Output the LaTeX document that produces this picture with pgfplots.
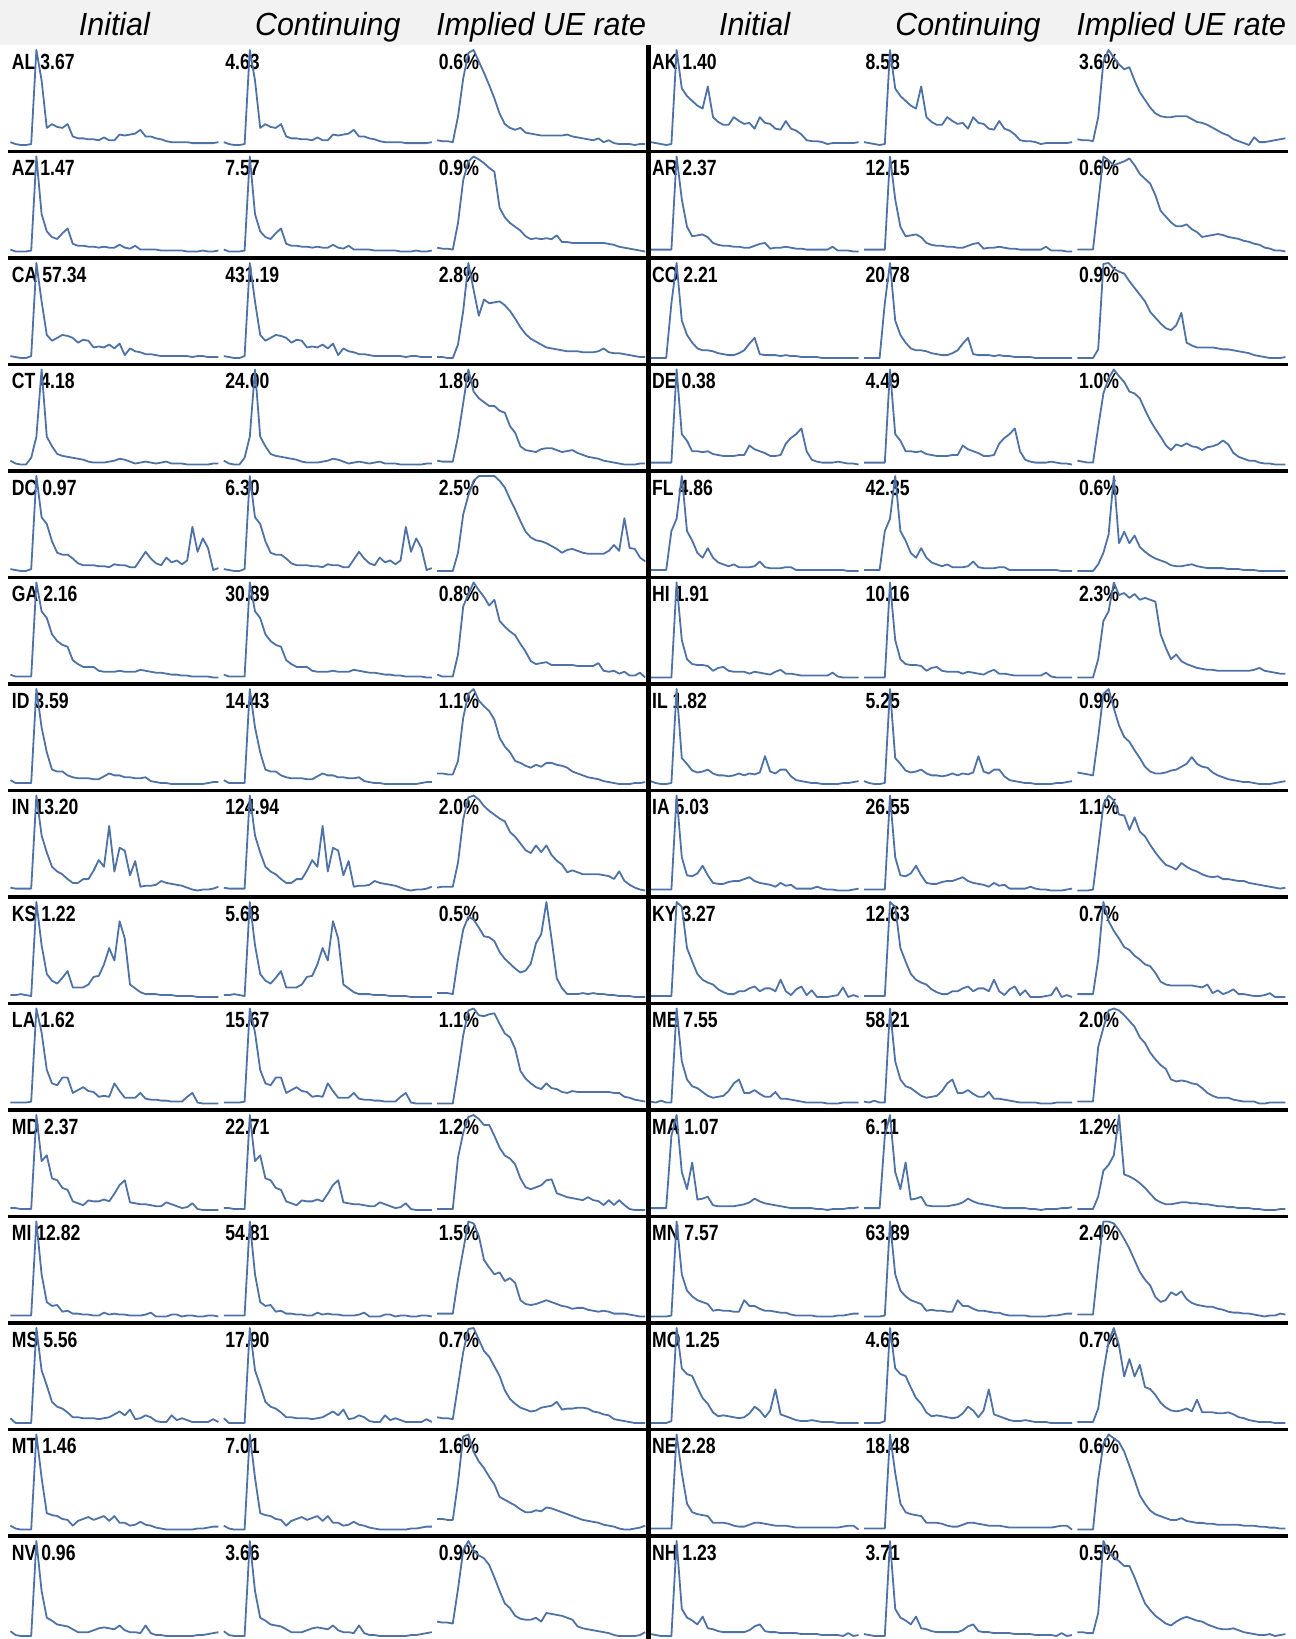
\documentclass[border=0pt]{standalone}
\usepackage{pgfplots}
\pgfplotsset{compat=1.18}
\usepackage{fontspec}
\setmainfont{Liberation Sans}
\newfontfamily\labfont{Liberation Sans}[FakeStretch=0.80]
\newfontfamily\hdrfont{Liberation Sans}[FakeStretch=0.95]
\definecolor{spk}{RGB}{78,114,166}
\definecolor{hdrbg}{RGB}{242,242,242}
\pgfplotsset{sparkax/.style={width=104pt,height=47.5pt,scale only axis,axis lines=none,ticks=none,
  enlargelimits=false,clip=false,anchor=north west,xmin=0,xmax=40}}
\newcommand\spark[4]{%
\begin{axis}[sparkax,at={({5.2pt+(#1-1)*106.7pt},{-25pt-(#2-1)*53.25pt})}]
\node[anchor=base west,inner sep=0pt,xshift=0.6pt,yshift=-9.5pt,font=\labfont\bfseries\fontsize{11}{12}\selectfont] at (rel axis cs:0,1) {#3};
\addplot[spk,line width=0.9pt,no markers,line join=round] table[x expr=\coordindex,y index=0,header=false,row sep=\\]{#4};
\end{axis}}
\begin{document}
\begin{tikzpicture}
\useasboundingbox (0,0) rectangle (648pt,-819.5pt);
\fill[hdrbg] (0,0) rectangle (648pt,-22.5pt);
\foreach \c/\t in {1/Initial,2/Continuing,3/Implied UE rate,4/Initial,5/Continuing,6/Implied UE rate}
  \node[anchor=base,inner sep=0pt,font=\hdrfont\itshape\fontsize{16}{18}\selectfont] at ({5.2pt+(\c-1)*106.7pt+52pt},-17.5pt) {\t};
% ---- left half ----
\spark{1}{1}{AL 3.67}{3\\1\\0\\0\\1\\100\\68\\18\\22\\19\\18\\22\\9\\7\\7\\6\\6\\5\\8\\5\\5\\11\\10\\11\\12\\16\\9\\9\\7\\6\\4\\3\\3\\3\\3\\2\\2\\2\\2\\2\\3\\}
\spark{2}{1}{4.63}{3\\1\\0\\0\\1\\100\\68\\18\\22\\19\\18\\22\\9\\7\\7\\6\\6\\5\\8\\5\\5\\11\\10\\11\\12\\16\\9\\9\\7\\6\\4\\3\\3\\3\\3\\2\\2\\2\\2\\2\\3\\}
\spark{3}{1}{0.6\%}{5\\4\\4\\3\\30\\70\\97\\100\\88\\76\\63\\49\\33\\22\\18\\16\\18\\13\\12\\11\\10\\10\\10\\10\\10\\11\\9\\8\\7\\6\\5\\7\\3\\5\\2\\1\\1\\1\\0\\1\\1\\}
\spark{1}{2}{AZ 1.47}{3\\1\\1\\1\\2\\100\\40\\22\\16\\14\\20\\25\\9\\7\\7\\6\\6\\5\\6\\5\\5\\8\\5\\4\\7\\3\\3\\3\\3\\2\\2\\2\\2\\2\\1\\1\\1\\2\\1\\1\\2\\}
\spark{2}{2}{7.57}{3\\1\\1\\1\\2\\100\\40\\22\\16\\14\\20\\25\\9\\7\\7\\6\\6\\5\\6\\5\\5\\8\\5\\4\\7\\3\\3\\3\\3\\2\\2\\2\\2\\2\\1\\1\\1\\2\\1\\1\\2\\}
\spark{3}{2}{0.9\%}{4\\3\\3\\2\\30\\75\\95\\100\\97\\93\\88\\84\\46\\36\\30\\26\\22\\16\\13\\14\\13\\14\\13\\17\\10\\10\\9\\9\\9\\9\\9\\9\\9\\8\\7\\5\\4\\3\\2\\1\\0\\}
\spark{1}{3}{CA 57.34}{3\\2\\1\\1\\3\\100\\60\\25\\19\\22\\25\\24\\22\\17\\20\\19\\12\\13\\12\\15\\11\\16\\4\\11\\8\\7\\5\\5\\4\\3\\3\\3\\3\\3\\3\\2\\3\\3\\2\\2\\2\\}
\spark{2}{3}{431.19}{3\\2\\1\\1\\3\\100\\60\\25\\19\\22\\25\\24\\22\\17\\20\\19\\12\\13\\12\\15\\11\\16\\4\\11\\8\\7\\5\\5\\4\\3\\3\\3\\3\\3\\3\\2\\3\\3\\2\\2\\2\\}
\spark{3}{3}{2.8\%}{2\\2\\1\\1\\15\\50\\100\\72\\45\\62\\58\\59\\60\\56\\50\\42\\33\\26\\21\\18\\15\\12\\11\\10\\9\\8\\8\\8\\7\\7\\7\\8\\11\\7\\6\\6\\5\\4\\3\\2\\2\\}
\spark{1}{4}{CT 4.18}{5\\2\\1\\1\\8\\30\\100\\30\\20\\12\\10\\9\\8\\7\\6\\4\\3\\3\\3\\4\\5\\7\\6\\4\\2\\3\\4\\3\\2\\3\\4\\2\\2\\2\\1\\1\\1\\1\\1\\2\\2\\}
\spark{2}{4}{24.00}{5\\2\\1\\1\\8\\30\\100\\30\\20\\12\\10\\9\\8\\7\\6\\4\\3\\3\\3\\4\\5\\7\\6\\4\\2\\3\\4\\3\\2\\3\\4\\2\\2\\2\\1\\1\\1\\1\\1\\2\\2\\}
\spark{3}{4}{1.8\%}{5\\4\\4\\4\\30\\65\\100\\77\\70\\66\\62\\62\\57\\55\\41\\34\\20\\16\\15\\14\\17\\18\\18\\16\\14\\15\\16\\13\\11\\9\\8\\7\\5\\4\\3\\2\\1\\1\\1\\2\\2\\}
\spark{1}{5}{DC 0.97}{3\\2\\1\\1\\3\\100\\57\\50\\32\\20\\18\\18\\14\\9\\7\\7\\7\\6\\6\\5\\8\\7\\7\\5\\5\\13\\21\\14\\9\\7\\15\\10\\12\\8\\12\\47\\21\\35\\25\\2\\4\\}
\spark{2}{5}{6.30}{3\\2\\1\\1\\3\\100\\57\\50\\32\\20\\18\\18\\14\\9\\7\\7\\7\\6\\6\\5\\8\\7\\7\\5\\5\\13\\21\\14\\9\\7\\15\\10\\12\\8\\12\\47\\21\\35\\25\\2\\4\\}
\spark{3}{5}{2.5\%}{1\\1\\1\\1\\20\\60\\80\\95\\100\\100\\100\\100\\95\\88\\76\\65\\53\\42\\36\\33\\32\\30\\27\\24\\20\\23\\24\\22\\20\\19\\19\\19\\19\\22\\28\\22\\56\\25\\24\\15\\11\\}
\spark{1}{6}{GA 2.16}{4\\2\\2\\2\\2\\100\\70\\63\\46\\39\\35\\33\\19\\15\\12\\12\\12\\8\\7\\7\\7\\8\\7\\7\\7\\9\\8\\7\\6\\6\\5\\4\\4\\3\\3\\2\\2\\2\\2\\1\\1\\}
\spark{2}{6}{30.89}{4\\2\\2\\2\\2\\100\\70\\63\\46\\39\\35\\33\\19\\15\\12\\12\\12\\8\\7\\7\\7\\8\\7\\7\\7\\9\\8\\7\\6\\6\\5\\4\\4\\3\\3\\2\\2\\2\\2\\1\\1\\}
\spark{3}{6}{0.8\%}{4\\2\\2\\2\\25\\75\\88\\100\\92\\85\\76\\82\\60\\54\\49\\45\\36\\28\\18\\15\\16\\17\\14\\14\\14\\14\\14\\13\\13\\13\\13\\16\\8\\7\\8\\5\\7\\3\\3\\6\\1\\}
\spark{1}{7}{ID 3.59}{5\\2\\2\\2\\2\\100\\60\\34\\16\\14\\14\\10\\8\\7\\7\\7\\6\\6\\9\\12\\10\\10\\8\\8\\7\\7\\8\\4\\3\\2\\2\\1\\1\\1\\1\\1\\1\\1\\2\\3\\3\\}
\spark{2}{7}{14.43}{5\\2\\2\\2\\2\\100\\60\\34\\16\\14\\14\\10\\8\\7\\7\\7\\6\\6\\9\\12\\10\\10\\8\\8\\7\\7\\8\\4\\3\\2\\2\\1\\1\\1\\1\\1\\1\\1\\2\\3\\3\\}
\spark{3}{7}{1.1\%}{12\\12\\11\\11\\25\\70\\95\\100\\88\\82\\77\\68\\49\\40\\34\\25\\23\\20\\18\\21\\19\\23\\23\\21\\20\\18\\14\\12\\10\\8\\7\\6\\4\\3\\2\\1\\1\\1\\2\\2\\3\\}
\spark{1}{8}{IN 13.20}{3\\2\\2\\2\\2\\100\\58\\40\\25\\20\\17\\12\\8\\8\\12\\12\\21\\32\\25\\68\\20\\45\\42\\16\\31\\4\\5\\5\\6\\10\\8\\7\\6\\5\\3\\1\\0\\1\\1\\2\\4\\}
\spark{2}{8}{124.94}{3\\2\\2\\2\\2\\100\\58\\40\\25\\20\\17\\12\\8\\8\\12\\12\\21\\32\\25\\68\\20\\45\\42\\16\\31\\4\\5\\5\\6\\10\\8\\7\\6\\5\\3\\1\\0\\1\\1\\2\\4\\}
\spark{3}{8}{2.0\%}{4\\5\\5\\5\\30\\75\\98\\100\\96\\89\\84\\80\\76\\73\\62\\57\\50\\43\\40\\48\\41\\48\\38\\32\\28\\20\\22\\20\\18\\18\\18\\18\\17\\16\\13\\21\\11\\7\\4\\2\\1\\}
\spark{1}{9}{KS 1.22}{3\\3\\4\\3\\2\\100\\55\\25\\18\\15\\21\\28\\11\\11\\11\\14\\22\\23\\35\\52\\39\\80\\62\\14\\10\\6\\4\\4\\4\\3\\3\\3\\2\\2\\2\\2\\1\\1\\1\\1\\1\\}
\spark{2}{9}{5.68}{3\\3\\4\\3\\2\\100\\55\\25\\18\\15\\21\\28\\11\\11\\11\\14\\22\\23\\35\\52\\39\\80\\62\\14\\10\\6\\4\\4\\4\\3\\3\\3\\2\\2\\2\\2\\1\\1\\1\\1\\1\\}
\spark{3}{9}{0.5\%}{5\\5\\5\\4\\40\\70\\83\\80\\72\\63\\62\\58\\47\\40\\35\\30\\26\\28\\35\\56\\65\\98\\60\\20\\10\\4\\4\\4\\5\\4\\5\\4\\4\\3\\3\\2\\2\\2\\1\\1\\1\\}
\spark{1}{10}{LA 1.62}{2\\2\\2\\2\\3\\100\\75\\36\\22\\20\\28\\28\\12\\15\\18\\14\\13\\8\\9\\8\\22\\14\\7\\7\\7\\12\\6\\5\\5\\4\\4\\3\\3\\3\\8\\12\\2\\1\\1\\1\\1\\}
\spark{2}{10}{15.67}{2\\2\\2\\2\\3\\100\\75\\36\\22\\20\\28\\28\\12\\15\\18\\14\\13\\8\\9\\8\\22\\14\\7\\7\\7\\12\\6\\5\\5\\4\\4\\3\\3\\3\\8\\12\\2\\1\\1\\1\\1\\}
\spark{3}{10}{1.1\%}{1\\1\\1\\1\\35\\72\\98\\100\\93\\92\\94\\95\\84\\74\\70\\58\\35\\27\\22\\18\\16\\22\\17\\16\\13\\12\\14\\13\\13\\13\\13\\13\\13\\13\\12\\12\\8\\7\\5\\4\\3\\}
\spark{1}{11}{MD 2.37}{3\\3\\2\\2\\2\\100\\52\\58\\34\\32\\24\\22\\10\\8\\6\\11\\10\\10\\12\\10\\18\\27\\32\\9\\8\\7\\7\\6\\5\\5\\9\\7\\5\\3\\4\\8\\2\\1\\1\\1\\1\\}
\spark{2}{11}{22.71}{3\\3\\2\\2\\2\\100\\52\\58\\34\\32\\24\\22\\10\\8\\6\\11\\10\\10\\12\\10\\18\\27\\32\\9\\8\\7\\7\\6\\5\\5\\9\\7\\5\\3\\4\\8\\2\\1\\1\\1\\1\\}
\spark{3}{11}{1.2\%}{3\\3\\3\\3\\55\\80\\96\\98\\94\\88\\88\\77\\65\\57\\54\\48\\34\\25\\23\\25\\27\\32\\33\\19\\17\\15\\14\\13\\12\\15\\12\\11\\7\\12\\7\\12\\7\\3\\2\\2\\2\\}
\spark{1}{12}{MI 12.82}{2\\2\\2\\2\\2\\100\\45\\16\\12\\13\\6\\7\\4\\4\\3\\3\\2\\2\\5\\3\\4\\3\\3\\2\\2\\2\\3\\5\\1\\1\\1\\3\\3\\1\\2\\2\\1\\1\\2\\2\\1\\}
\spark{2}{12}{54.81}{2\\2\\2\\2\\2\\100\\45\\16\\12\\13\\6\\7\\4\\4\\3\\3\\2\\2\\5\\3\\4\\3\\3\\2\\2\\2\\3\\5\\1\\1\\1\\3\\3\\1\\2\\2\\1\\1\\2\\2\\1\\}
\spark{3}{12}{1.5\%}{4\\4\\4\\4\\40\\70\\100\\98\\85\\60\\52\\45\\47\\38\\41\\36\\18\\14\\13\\14\\16\\18\\16\\14\\12\\11\\9\\10\\10\\8\\7\\6\\7\\6\\4\\4\\4\\3\\2\\1\\1\\}
\spark{1}{13}{MS 5.56}{6\\1\\1\\1\\1\\100\\56\\40\\23\\18\\16\\12\\7\\7\\6\\6\\6\\5\\6\\7\\10\\13\\9\\15\\5\\6\\9\\7\\3\\2\\2\\9\\4\\6\\4\\2\\2\\2\\2\\5\\2\\}
\spark{2}{13}{17.90}{6\\1\\1\\1\\1\\100\\56\\40\\23\\18\\16\\12\\7\\7\\6\\6\\6\\5\\6\\7\\10\\13\\9\\15\\5\\6\\9\\7\\3\\2\\2\\9\\4\\6\\4\\2\\2\\2\\2\\5\\2\\}
\spark{3}{13}{0.7\%}{7\\6\\6\\5\\40\\75\\99\\100\\88\\76\\70\\60\\50\\35\\26\\21\\17\\15\\13\\14\\17\\18\\19\\23\\15\\16\\16\\17\\17\\16\\13\\12\\10\\9\\5\\4\\3\\2\\1\\1\\1\\}
\spark{1}{14}{MT 1.46}{5\\2\\1\\1\\1\\100\\55\\18\\16\\15\\12\\11\\5\\10\\12\\14\\11\\13\\15\\10\\15\\8\\8\\5\\6\\9\\6\\5\\3\\2\\1\\1\\1\\1\\1\\1\\2\\2\\3\\4\\4\\}
\spark{2}{14}{7.01}{5\\2\\1\\1\\1\\100\\55\\18\\16\\15\\12\\11\\5\\10\\12\\14\\11\\13\\15\\10\\15\\8\\8\\5\\6\\9\\6\\5\\3\\2\\1\\1\\1\\1\\1\\1\\2\\2\\3\\4\\4\\}
\spark{3}{14}{1.6\%}{12\\12\\11\\11\\50\\98\\100\\82\\72\\65\\56\\48\\35\\32\\29\\26\\22\\19\\19\\21\\20\\24\\23\\21\\19\\17\\15\\13\\11\\10\\9\\8\\6\\5\\4\\2\\1\\1\\2\\3\\5\\}
\spark{1}{15}{NV 0.96}{6\\2\\1\\1\\1\\100\\48\\20\\17\\13\\12\\11\\8\\5\\5\\5\\7\\9\\10\\9\\8\\12\\7\\5\\5\\4\\12\\4\\2\\2\\1\\1\\1\\1\\1\\1\\2\\2\\3\\4\\5\\}
\spark{2}{15}{3.66}{6\\2\\1\\1\\1\\100\\48\\20\\17\\13\\12\\11\\8\\5\\5\\5\\7\\9\\10\\9\\8\\12\\7\\5\\5\\4\\12\\4\\2\\2\\1\\1\\1\\1\\1\\1\\2\\2\\3\\4\\5\\}
\spark{3}{15}{0.9\%}{16\\15\\15\\14\\50\\90\\100\\90\\85\\82\\75\\62\\48\\35\\30\\22\\19\\18\\18\\20\\16\\25\\24\\23\\22\\20\\18\\11\\9\\8\\7\\6\\5\\4\\2\\1\\1\\1\\1\\2\\5\\}
% ---- right half ----
\spark{4}{1}{AK 1.40}{4\\3\\2\\1\\2\\100\\60\\52\\47\\42\\39\\62\\30\\25\\22\\22\\30\\26\\23\\24\\18\\30\\24\\23\\18\\17\\26\\18\\16\\12\\6\\5\\5\\4\\2\\3\\3\\3\\3\\3\\4\\}
\spark{5}{1}{8.58}{4\\3\\2\\1\\2\\100\\60\\52\\47\\42\\39\\62\\30\\25\\22\\22\\30\\26\\23\\24\\18\\30\\24\\23\\18\\17\\26\\18\\16\\12\\6\\5\\5\\4\\2\\3\\3\\3\\3\\3\\4\\}
\spark{6}{1}{3.6\%}{7\\6\\6\\5\\30\\88\\100\\92\\85\\80\\82\\68\\56\\48\\40\\34\\31\\30\\30\\31\\31\\31\\28\\25\\24\\22\\19\\16\\13\\11\\7\\5\\3\\1\\9\\4\\4\\5\\6\\7\\8\\}
\spark{4}{2}{AR 2.37}{2\\2\\2\\2\\2\\100\\55\\26\\16\\17\\18\\15\\9\\7\\6\\6\\5\\5\\4\\4\\6\\8\\9\\3\\4\\4\\5\\4\\3\\3\\2\\2\\2\\2\\2\\5\\1\\1\\1\\0\\0\\}
\spark{5}{2}{12.15}{2\\2\\2\\2\\2\\100\\55\\26\\16\\17\\18\\15\\9\\7\\6\\6\\5\\5\\4\\4\\6\\8\\9\\3\\4\\4\\5\\4\\3\\3\\2\\2\\2\\2\\2\\5\\1\\1\\1\\0\\0\\}
\spark{6}{2}{0.6\%}{2\\2\\2\\2\\50\\98\\94\\89\\91\\93\\96\\89\\80\\75\\70\\58\\42\\36\\30\\26\\26\\28\\23\\20\\15\\16\\17\\18\\17\\15\\14\\13\\11\\10\\8\\7\\4\\3\\1\\1\\0\\}
\spark{4}{3}{CO 2.21}{1\\1\\1\\1\\58\\100\\40\\25\\17\\11\\9\\9\\8\\6\\5\\4\\4\\6\\9\\16\\22\\5\\4\\4\\4\\3\\4\\3\\3\\2\\2\\2\\2\\1\\1\\1\\1\\1\\1\\1\\1\\}
\spark{5}{3}{20.78}{1\\1\\1\\1\\58\\100\\40\\25\\17\\11\\9\\9\\8\\6\\5\\4\\4\\6\\9\\16\\22\\5\\4\\4\\4\\3\\4\\3\\3\\2\\2\\2\\2\\1\\1\\1\\1\\1\\1\\1\\1\\}
\spark{6}{3}{0.9\%}{1\\1\\1\\1\\10\\99\\100\\94\\91\\89\\81\\74\\67\\60\\49\\43\\37\\32\\30\\35\\48\\17\\14\\12\\12\\12\\12\\11\\10\\10\\9\\8\\7\\6\\4\\3\\2\\1\\1\\1\\2\\}
\spark{4}{4}{DE 0.38}{2\\2\\2\\2\\2\\100\\32\\25\\14\\14\\13\\14\\11\\10\\9\\9\\9\\10\\10\\20\\16\\14\\12\\9\\9\\10\\22\\28\\32\\38\\14\\5\\3\\2\\2\\2\\3\\2\\1\\1\\0\\}
\spark{5}{4}{4.49}{2\\2\\2\\2\\2\\100\\32\\25\\14\\14\\13\\14\\11\\10\\9\\9\\9\\10\\10\\20\\16\\14\\12\\9\\9\\10\\22\\28\\32\\38\\14\\5\\3\\2\\2\\2\\3\\2\\1\\1\\0\\}
\spark{6}{4}{1.0\%}{5\\4\\3\\3\\40\\75\\91\\100\\93\\87\\77\\75\\70\\58\\47\\38\\30\\21\\16\\22\\20\\23\\20\\19\\16\\19\\20\\22\\26\\22\\13\\9\\7\\5\\5\\3\\2\\2\\1\\1\\1\\}
\spark{4}{5}{FL 4.86}{1\\1\\1\\1\\42\\55\\100\\42\\32\\19\\14\\24\\14\\9\\7\\5\\7\\4\\4\\4\\5\\10\\4\\3\\3\\3\\4\\4\\1\\1\\1\\1\\1\\1\\1\\1\\1\\1\\0\\0\\0\\}
\spark{5}{5}{42.35}{1\\1\\1\\1\\42\\55\\100\\42\\32\\19\\14\\24\\14\\9\\7\\5\\7\\4\\4\\4\\5\\10\\4\\3\\3\\3\\4\\4\\1\\1\\1\\1\\1\\1\\1\\1\\1\\1\\0\\0\\0\\}
\spark{6}{5}{0.6\%}{1\\1\\1\\1\\8\\20\\39\\100\\30\\42\\30\\38\\26\\21\\17\\14\\12\\10\\7\\6\\6\\7\\8\\6\\5\\4\\4\\4\\4\\3\\3\\3\\2\\2\\2\\1\\1\\1\\1\\1\\1\\}
\spark{4}{6}{HI 1.91}{1\\1\\1\\1\\1\\100\\40\\20\\15\\14\\14\\13\\8\\11\\12\\8\\7\\7\\7\\5\\7\\6\\5\\4\\7\\9\\5\\5\\4\\3\\3\\3\\3\\3\\3\\6\\2\\1\\1\\1\\1\\}
\spark{5}{6}{10.16}{1\\1\\1\\1\\1\\100\\40\\20\\15\\14\\14\\13\\8\\11\\12\\8\\7\\7\\7\\5\\7\\6\\5\\4\\7\\9\\5\\5\\4\\3\\3\\3\\3\\3\\3\\6\\2\\1\\1\\1\\1\\}
\spark{6}{6}{2.3\%}{1\\1\\1\\1\\20\\60\\70\\100\\87\\89\\84\\88\\82\\84\\82\\80\\46\\32\\20\\25\\18\\15\\13\\11\\10\\9\\9\\8\\8\\8\\8\\8\\8\\8\\9\\11\\8\\7\\6\\5\\5\\}
\spark{4}{7}{IL 1.82}{4\\2\\1\\1\\2\\100\\28\\22\\15\\13\\14\\16\\12\\10\\10\\9\\10\\12\\10\\12\\11\\13\\30\\14\\12\\16\\16\\9\\5\\4\\3\\2\\2\\1\\1\\1\\1\\2\\2\\3\\4\\}
\spark{5}{7}{5.25}{4\\2\\1\\1\\2\\100\\28\\22\\15\\13\\14\\16\\12\\10\\10\\9\\10\\12\\10\\12\\11\\13\\30\\14\\12\\16\\16\\9\\5\\4\\3\\2\\2\\1\\1\\1\\1\\2\\2\\3\\4\\}
\spark{6}{7}{0.9\%}{13\\12\\11\\10\\50\\95\\100\\80\\62\\50\\45\\36\\28\\19\\14\\12\\12\\13\\15\\16\\19\\22\\29\\22\\19\\18\\13\\10\\8\\6\\5\\4\\3\\3\\2\\1\\1\\1\\2\\3\\4\\}
\spark{4}{8}{IA 5.03}{1\\1\\1\\1\\1\\100\\35\\16\\15\\18\\26\\16\\8\\7\\7\\9\\10\\10\\12\\14\\10\\8\\7\\6\\4\\8\\5\\6\\2\\2\\2\\2\\4\\2\\1\\1\\0\\0\\0\\1\\2\\}
\spark{5}{8}{26.55}{1\\1\\1\\1\\1\\100\\35\\16\\15\\18\\26\\16\\8\\7\\7\\9\\10\\10\\12\\14\\10\\8\\7\\6\\4\\8\\5\\6\\2\\2\\2\\2\\4\\2\\1\\1\\0\\0\\0\\1\\2\\}
\spark{6}{8}{1.1\%}{0\\0\\0\\1\\45\\90\\100\\95\\80\\79\\64\\77\\62\\57\\48\\40\\33\\27\\25\\22\\29\\25\\22\\20\\17\\15\\14\\15\\12\\12\\11\\10\\10\\8\\7\\6\\5\\4\\3\\2\\3\\}
\spark{4}{9}{KY 3.27}{2\\2\\2\\2\\2\\100\\95\\52\\38\\25\\19\\16\\14\\9\\6\\4\\4\\7\\7\\10\\12\\7\\10\\10\\7\\19\\7\\3\\9\\12\\3\\8\\1\\1\\1\\2\\3\\11\\1\\3\\1\\}
\spark{5}{9}{12.63}{2\\2\\2\\2\\2\\100\\95\\52\\38\\25\\19\\16\\14\\9\\6\\4\\4\\7\\7\\10\\12\\7\\10\\10\\7\\19\\7\\3\\9\\12\\3\\8\\1\\1\\1\\2\\3\\11\\1\\3\\1\\}
\spark{6}{9}{0.7\%}{4\\4\\4\\4\\40\\100\\80\\70\\62\\53\\50\\44\\40\\35\\33\\26\\17\\14\\13\\13\\13\\13\\13\\12\\11\\14\\5\\8\\4\\6\\9\\4\\4\\3\\2\\2\\3\\5\\1\\1\\1\\}
\spark{4}{10}{ME 7.55}{3\\2\\4\\2\\2\\100\\45\\26\\19\\17\\13\\9\\7\\8\\9\\14\\22\\26\\12\\12\\15\\11\\8\\8\\13\\6\\6\\5\\4\\3\\2\\2\\2\\2\\1\\1\\1\\2\\2\\2\\2\\}
\spark{5}{10}{58.21}{3\\2\\4\\2\\2\\100\\45\\26\\19\\17\\13\\9\\7\\8\\9\\14\\22\\26\\12\\12\\15\\11\\8\\8\\13\\6\\6\\5\\4\\3\\2\\2\\2\\2\\1\\1\\1\\2\\2\\2\\2\\}
\spark{6}{10}{2.0\%}{3\\3\\3\\3\\60\\80\\98\\100\\98\\93\\87\\81\\70\\64\\54\\47\\41\\37\\26\\24\\25\\24\\22\\21\\17\\12\\9\\7\\7\\7\\5\\4\\3\\3\\3\\1\\1\\2\\2\\2\\2\\}
\spark{4}{11}{MA 1.07}{2\\2\\2\\2\\78\\100\\40\\22\\50\\11\\12\\14\\5\\4\\4\\4\\4\\5\\6\\8\\12\\9\\7\\6\\5\\4\\3\\2\\2\\2\\2\\2\\1\\1\\0\\1\\1\\1\\2\\2\\3\\}
\spark{5}{11}{6.11}{2\\2\\2\\2\\78\\100\\40\\22\\50\\11\\12\\14\\5\\4\\4\\4\\4\\5\\6\\8\\12\\9\\7\\6\\5\\4\\3\\2\\2\\2\\2\\2\\1\\1\\0\\1\\1\\1\\2\\2\\3\\}
\spark{6}{11}{1.2\%}{2\\2\\2\\2\\15\\42\\48\\58\\100\\38\\36\\33\\29\\24\\18\\12\\9\\7\\7\\8\\9\\9\\8\\8\\7\\7\\6\\5\\5\\4\\4\\3\\3\\3\\2\\2\\1\\1\\1\\2\\2\\}
\spark{4}{12}{MN 7.57}{1\\1\\1\\1\\2\\100\\45\\28\\22\\18\\16\\14\\7\\8\\7\\7\\6\\6\\18\\12\\12\\9\\7\\7\\6\\5\\5\\3\\2\\2\\2\\2\\1\\1\\1\\1\\2\\2\\3\\4\\4\\}
\spark{5}{12}{63.89}{1\\1\\1\\1\\2\\100\\45\\28\\22\\18\\16\\14\\7\\8\\7\\7\\6\\6\\18\\12\\12\\9\\7\\7\\6\\5\\5\\3\\2\\2\\2\\2\\1\\1\\1\\1\\2\\2\\3\\4\\4\\}
\spark{6}{12}{2.4\%}{4\\4\\4\\4\\55\\100\\100\\98\\91\\82\\72\\60\\48\\40\\34\\22\\17\\19\\27\\24\\28\\20\\16\\14\\13\\12\\12\\10\\9\\7\\6\\6\\5\\5\\4\\3\\2\\3\\3\\5\\4\\}
\spark{4}{13}{MO 1.25}{1\\1\\1\\1\\3\\100\\58\\52\\50\\38\\27\\21\\12\\8\\9\\8\\7\\6\\7\\11\\18\\14\\7\\14\\36\\10\\8\\6\\4\\3\\3\\4\\3\\2\\2\\2\\1\\1\\1\\1\\1\\}
\spark{5}{13}{4.66}{1\\1\\1\\1\\3\\100\\58\\52\\50\\38\\27\\21\\12\\8\\9\\8\\7\\6\\7\\11\\18\\14\\7\\14\\36\\10\\8\\6\\4\\3\\3\\4\\3\\2\\2\\2\\1\\1\\1\\1\\1\\}
\spark{6}{13}{0.7\%}{1\\1\\1\\1\\15\\53\\84\\98\\80\\48\\66\\48\\60\\37\\35\\29\\21\\16\\13\\12\\13\\15\\12\\24\\11\\11\\11\\10\\10\\11\\9\\6\\5\\3\\2\\1\\1\\1\\0\\0\\0\\}
\spark{4}{14}{NE 2.28}{2\\2\\2\\2\\2\\100\\60\\28\\19\\17\\16\\15\\8\\8\\8\\7\\5\\4\\4\\6\\8\\8\\7\\6\\5\\5\\5\\4\\3\\3\\3\\3\\3\\3\\3\\3\\3\\4\\5\\5\\1\\}
\spark{5}{14}{18.48}{2\\2\\2\\2\\2\\100\\60\\28\\19\\17\\16\\15\\8\\8\\8\\7\\5\\4\\4\\6\\8\\8\\7\\6\\5\\5\\5\\4\\3\\3\\3\\3\\3\\3\\3\\3\\3\\4\\5\\5\\1\\}
\spark{6}{14}{0.6\%}{0\\0\\0\\0\\53\\90\\100\\96\\92\\82\\67\\52\\36\\27\\20\\16\\14\\12\\10\\10\\12\\9\\8\\7\\7\\6\\6\\5\\5\\5\\5\\5\\4\\4\\4\\3\\3\\2\\2\\1\\1\\}
\spark{4}{15}{NH 1.23}{4\\3\\2\\2\\2\\100\\30\\21\\18\\14\\22\\10\\9\\7\\6\\6\\6\\6\\6\\8\\12\\14\\7\\6\\6\\5\\5\\5\\5\\4\\4\\4\\4\\3\\3\\3\\3\\2\\5\\2\\3\\}
\spark{5}{15}{3.71}{4\\3\\2\\2\\2\\100\\30\\21\\18\\14\\22\\10\\9\\7\\6\\6\\6\\6\\6\\8\\12\\14\\7\\6\\6\\5\\5\\5\\5\\4\\4\\4\\4\\3\\3\\3\\3\\2\\5\\2\\3\\}
\spark{6}{15}{0.5\%}{5\\5\\4\\4\\25\\100\\88\\83\\79\\74\\74\\62\\48\\35\\28\\22\\18\\14\\12\\16\\19\\21\\19\\17\\16\\13\\11\\9\\8\\8\\9\\7\\5\\4\\3\\2\\2\\3\\1\\2\\3\\}
% ---- rules ----
\foreach \r in {1,...,14}
  \draw[line width=1.6pt] (4pt,{-22.5pt-\r*53.25pt}) -- (644pt,{-22.5pt-\r*53.25pt});
\draw[line width=2.5pt] (324pt,-22.5pt) -- (324pt,-819.5pt);
\end{tikzpicture}
\end{document}
